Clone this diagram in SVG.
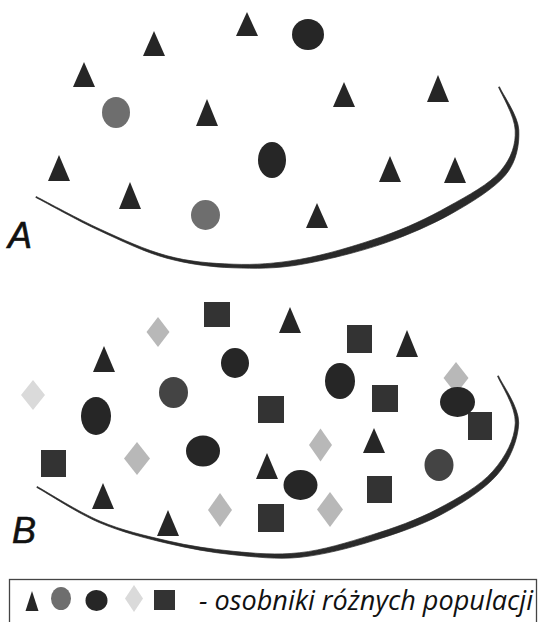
<svg xmlns="http://www.w3.org/2000/svg" width="543" height="622" viewBox="0 0 543 622">
<style>
.tri{fill:#262626}
.dark{fill:#262626}
.gray{fill:#6e6e6e}
.mid{fill:#444444}
.sq{fill:#333333}
.dia{fill:#b8b8b8}
.vlight{fill:#dadada}
.rim{fill:#2a2a2a;stroke:#2a2a2a;stroke-width:0.7;stroke-linejoin:round}
.lbl{font-family:"Liberation Sans",Arial,sans-serif;font-style:italic;font-size:36px;fill:#111;stroke:#111;stroke-width:0.6}
.leg{font-family:"Open Sans","Noto Sans",sans-serif;font-style:italic;font-size:28px;fill:#111}
</style>

<g id="panel-A-boundary">
<path class="rim" d="M35.77,197.44 C46.47,202.94 77.87,220.73 99.67,230.73 C121.47,240.73 144.49,252.16 166.69,258.16 C188.89,264.16 210.73,267 232.93,267.8 C255.13,268.6 275.440,268.86 300.44,264.56 C325.44,260.26 359.14,252.01 384.14,243.31 C409.14,234.61 431.9,224.6 451.9,213.4 C471.9,202.2 494.25,188.35 505.45,175.05 C516.65,161.75 519.5,144.22 518.8,129.92 C518.1,115.62 502.46,94.01 499.46,86.81 L498.54,87.19 C501.54,94.39 514.5,115.78 515.2,130.08 C515.9,144.38 511.75,157.65 500.55,170.95 C489.35,184.25 468.1,195.4 448.1,206.6 C428.1,217.8 406.86,227.99 381.86,236.69 C356.86,245.39 324.56,255.14 299.56,259.44 C274.56,263.74 255.27,265 233.07,264.2 C210.87,263.4 189.51,261.84 167.31,255.84 C145.11,249.84 122.13,239.27 100.33,229.27 C78.53,219.27 46.93,202.06 36.23,196.56 Z"/>
</g>

<g id="panel-B-boundary">
<path class="rim" d="M36.76,487.44 C47.26,493.24 77.99,513.54 99.69,522.74 C121.39,531.94 144.53,537.97 166.73,543.17 C188.93,548.37 210.64,552.49 232.84,554.69 C255.04,556.89 277.05,559.79 300.25,557.29 C323.45,554.79 349.69,548.07 372.89,540.87 C396.09,533.67 420.04,525.72 440.54,514.92 C461.04,504.12 484.11,489.65 497.11,474.85 C510.11,460.05 518.2,439.25 518.7,423.05 C519.2,406.85 501.66,383.61 498.46,375.81 L497.54,376.19 C500.74,383.99 515.8,406.75 515.3,422.95 C514.8,439.15 505.89,456.35 492.89,471.15 C479.89,485.95 457.96,498.28 437.46,509.08 C416.96,519.88 394.31,527.93 371.11,535.13 C347.91,542.33 322.95,550.21 299.75,552.71 C276.55,555.21 255.36,553.51 233.16,551.31 C210.96,549.11 189.47,546.03 167.27,540.83 C145.07,535.63 122.01,530.46 100.31,521.26 C78.61,512.06 47.74,492.36 37.24,486.56 Z"/>
</g>

<g id="panel-A">
<g id="a-tri-1"><polygon class="tri" points="247,12 236,36 258,36"/></g>
<g id="a-tri-2"><polygon class="tri" points="154,31 143,56 165,56"/></g>
<g id="a-tri-3"><polygon class="tri" points="84,62 73,87 95,87"/></g>
<g id="a-tri-4"><polygon class="tri" points="207,99 196,126 218,126"/></g>
<g id="a-tri-5"><polygon class="tri" points="344,82 333,107 355,107"/></g>
<g id="a-tri-6"><polygon class="tri" points="438,75 427,102 449,102"/></g>
<g id="a-tri-7"><polygon class="tri" points="59,155 48,181 70,181"/></g>
<g id="a-tri-8"><polygon class="tri" points="130,182 119,209 141,209"/></g>
<g id="a-tri-9"><polygon class="tri" points="317,203 306,228 328,228"/></g>
<g id="a-tri-10"><polygon class="tri" points="390,156 379,182 401,182"/></g>
<g id="a-tri-11"><polygon class="tri" points="455,157 444,183 466,183"/></g>
<g id="a-circ-1"><ellipse class="dark" cx="308" cy="34.5" rx="16" ry="15.5"/></g>
<g id="a-circ-2"><ellipse class="gray" cx="116" cy="112.5" rx="14" ry="15.5"/></g>
<g id="a-circ-3"><ellipse class="dark" cx="272" cy="160" rx="14" ry="18"/></g>
<g id="a-circ-4"><ellipse class="gray" cx="205.5" cy="215" rx="14.5" ry="15"/></g>
<g id="label-A"><text class="lbl" x="8" y="248">A</text></g>
</g>

<g id="panel-B">
<g id="b-tri-1"><polygon class="tri" points="290,307 279,333 301,333"/></g>
<g id="b-tri-2"><polygon class="tri" points="407,330 396,357 418,357"/></g>
<g id="b-tri-3"><polygon class="tri" points="104,346 93,372 115,372"/></g>
<g id="b-tri-4"><polygon class="tri" points="374,428 363,453 385,453"/></g>
<g id="b-tri-5"><polygon class="tri" points="267,453 256,479 278,479"/></g>
<g id="b-tri-6"><polygon class="tri" points="103,483 92,509 114,509"/></g>
<g id="b-tri-7"><polygon class="tri" points="168,510 157,536 179,536"/></g>
<g id="b-sq-1"><rect class="sq" x="204" y="302" width="26" height="25"/></g>
<g id="b-sq-2"><rect class="sq" x="347" y="325" width="25" height="28"/></g>
<g id="b-sq-3"><rect class="sq" x="372" y="385" width="26" height="27"/></g>
<g id="b-sq-4"><rect class="sq" x="258" y="396" width="26" height="27"/></g>
<g id="b-sq-5"><rect class="sq" x="468" y="412" width="24" height="28"/></g>
<g id="b-sq-6"><rect class="sq" x="41" y="450" width="25" height="27"/></g>
<g id="b-sq-7"><rect class="sq" x="367" y="476" width="25" height="27"/></g>
<g id="b-sq-8"><rect class="sq" x="258" y="504" width="26" height="28"/></g>
<g id="b-dia-1"><polygon class="dia" points="158,317 169.5,332 158,347 146.5,332"/></g>
<g id="b-dia-2"><polygon class="vlight" points="33,380 45,395 33,410 21,395"/></g>
<g id="b-dia-3"><polygon class="dia" points="456,362 468.5,378 456,394 443.5,378"/></g>
<g id="b-dia-4"><polygon class="dia" points="320.5,428.5 332,445 320.5,461.5 309,445"/></g>
<g id="b-dia-5"><polygon class="dia" points="137,442 150,458.5 137,475 124,458.5"/></g>
<g id="b-dia-6"><polygon class="dia" points="220,493 232,510 220,527 208,510"/></g>
<g id="b-dia-7"><polygon class="dia" points="330,492 343,509.5 330,527 317,509.5"/></g>
<g id="b-circ-1"><ellipse class="dark" cx="235" cy="363" rx="14" ry="15"/></g>
<g id="b-circ-2"><ellipse class="dark" cx="340" cy="381" rx="15" ry="18"/></g>
<g id="b-circ-3"><ellipse class="dark" cx="457.5" cy="402" rx="17.5" ry="15"/></g>
<g id="b-circ-4"><ellipse class="dark" cx="96" cy="416" rx="15" ry="19"/></g>
<g id="b-circ-5"><ellipse class="dark" cx="203" cy="451" rx="17" ry="15.5"/></g>
<g id="b-circ-6"><ellipse class="dark" cx="300.5" cy="485" rx="17" ry="15"/></g>
<g id="b-circ-7"><ellipse class="mid" cx="173.5" cy="392.5" rx="14.5" ry="15.5"/></g>
<g id="b-circ-8"><ellipse class="mid" cx="439" cy="465" rx="14.5" ry="16"/></g>
<g id="label-B"><text class="lbl" x="12" y="543">B</text></g>
</g>

<g id="legend">
<rect x="9.5" y="579.5" width="527" height="60" fill="none" stroke="#444" stroke-width="1.3"/>
<g id="leg-tri"><polygon class="tri" points="32,591 25.5,611 38.5,611"/></g>
<g id="leg-gray"><ellipse class="gray" cx="61" cy="598.5" rx="10" ry="11.5"/></g>
<g id="leg-dark"><ellipse class="dark" cx="96.5" cy="600.5" rx="11" ry="10.5"/></g>
<g id="leg-dia"><polygon class="vlight" points="134,585 143,598.5 134,612 125,598.5"/></g>
<g id="leg-sq"><rect class="sq" x="154" y="590" width="21" height="20"/></g>
<text class="leg" x="199" y="610" textLength="334" lengthAdjust="spacingAndGlyphs">- osobniki różnych populacji</text>
</g>
</svg>
